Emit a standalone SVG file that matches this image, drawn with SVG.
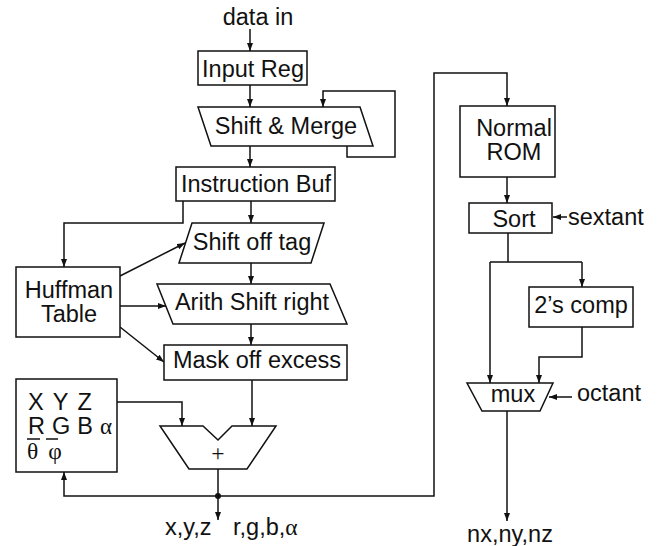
<svg xmlns="http://www.w3.org/2000/svg" width="660" height="546" viewBox="0 0 660 546">
<defs>
<marker id="ah" markerUnits="userSpaceOnUse" markerWidth="9" markerHeight="7" refX="8" refY="3" orient="auto">
<path d="M0,0 L8,3 L0,6 z" fill="#111"/>
</marker>
<style>
.box{fill:#fff;stroke:#111;stroke-width:1.5}
.c{fill:none;stroke:#111;stroke-width:1.5}
.a{marker-end:url(#ah)}
text{font-family:"Liberation Sans",Arial,sans-serif;font-size:23.5px;fill:#111}
.m{text-anchor:middle}
.s{font-family:"Liberation Serif","Times New Roman",serif}
</style>
</defs>
<rect width="660" height="546" fill="#fff"/>
<g id="connectors">
<path class="c a" d="M250,29 L250,51"/>
<path class="c a" d="M250,85 L250,107"/>
<path class="c a" d="M347,146 L347,157 L395,157 L395,91 L323,91 L323,107"/>
<path class="c a" d="M250,146 L250,167"/>
<path class="c a" d="M183,201 L183,223 L64,223 L64,267"/>
<path class="c a" d="M251,201 L251,223"/>
<path class="c a" d="M251,263 L251,284"/>
<path class="c a" d="M251,324 L251,345"/>
<path class="c a" d="M120,276 L185,243"/>
<path class="c a" d="M120,306 L166,306"/>
<path class="c a" d="M120,327 L164,362"/>
<path class="c a" d="M117,402 L182,402 L182,426"/>
<path class="c a" d="M252,380 L252,426"/>
<path class="c a" d="M218,469 L218,520"/>
<path class="c a" d="M218,496 L64,496 L64,472"/>
<path class="c a" d="M218,496 L434,496 L434,73 L507,73 L507,106"/>
<circle cx="218" cy="496" r="3" fill="#111"/>
<path class="c a" d="M507,177 L507,203"/>
<path class="c a" d="M567,217 L553,217"/>
<path class="c" d="M508,233 L508,262 M490,262 L582,262"/>
<path class="c a" d="M490,262 L490,383"/>
<path class="c a" d="M582,262 L582,287"/>
<path class="c a" d="M582,327 L582,357 L539,357 L539,383"/>
<path class="c a" d="M572,397 L549,397"/>
<path class="c a" d="M507,411 L507,521"/>
</g>
<g id="data-in"><text class="m" x="258" y="25">data in</text></g>
<g id="input-reg"><rect class="box" x="198" y="51" width="109" height="34"/><text class="m" x="253" y="77">Input Reg</text></g>
<g id="shift-merge"><polygon class="box" points="198,107 360,107 373,146 211,146"/><text class="m" x="286" y="134">Shift &amp; Merge</text></g>
<g id="instruction-buf"><rect class="box" x="176" y="167" width="159" height="34"/><text class="m" x="256" y="192">Instruction Buf</text></g>
<g id="shift-off-tag"><polygon class="box" points="192,223 324,223 311,263 179,263"/><text class="m" x="252" y="250">Shift off tag</text></g>
<g id="arith-shift"><polygon class="box" points="157,284 330,284 347,324 173,324"/><text class="m" x="252" y="310">Arith Shift right</text></g>
<g id="mask-off"><rect class="box" x="164" y="345" width="183" height="35"/><text class="m" x="257" y="368">Mask off excess</text></g>
<g id="huffman"><rect class="box" x="16" y="267" width="104" height="70"/><text class="m" x="69" y="298">Huffman</text><text class="m" x="69" y="322">Table</text></g>
<g id="registers"><rect class="box" x="16" y="379" width="101" height="93"/>
<text x="28" y="410" font-size="21" word-spacing="3">X Y Z</text>
<text x="28" y="434" font-size="21" word-spacing="0.5">R G B <tspan class="s" font-size="23">α</tspan></text>
<text class="s" x="27" y="459" font-size="20" word-spacing="4">θ φ</text>
<path class="c" d="M27,439 L40,439 M46,439 L58,439"/>
</g>
<g id="adder"><polygon class="box" points="160,426 203,426 218,440 232,426 276,426 247,469 189,469"/><text class="m s" x="218" y="461" font-size="22" fill="#555">+</text></g>
<g id="outputs-left"><text x="165" y="535">x,y,z</text><text x="233" y="535">r,g,b,<tspan class="s">α</tspan></text></g>
<g id="normal-rom"><rect class="box" x="460" y="106" width="95" height="71"/><text class="m" x="514" y="136">Normal</text><text class="m" x="514" y="160">ROM</text></g>
<g id="sort"><rect class="box" x="469" y="203" width="83" height="30"/><text class="m" x="514" y="227">Sort</text></g>
<g id="sextant"><text x="568" y="225">sextant</text></g>
<g id="twos-comp"><rect class="box" x="529" y="287" width="104" height="40"/><text class="m" x="581" y="313">2’s comp</text></g>
<g id="mux"><polygon class="box" points="467,383 553,383 540,411 482,411"/><text class="m" x="513" y="402">mux</text></g>
<g id="octant"><text x="577" y="401">octant</text></g>
<g id="nxnynz"><text class="m" x="510" y="542">nx,ny,nz</text></g>
</svg>
